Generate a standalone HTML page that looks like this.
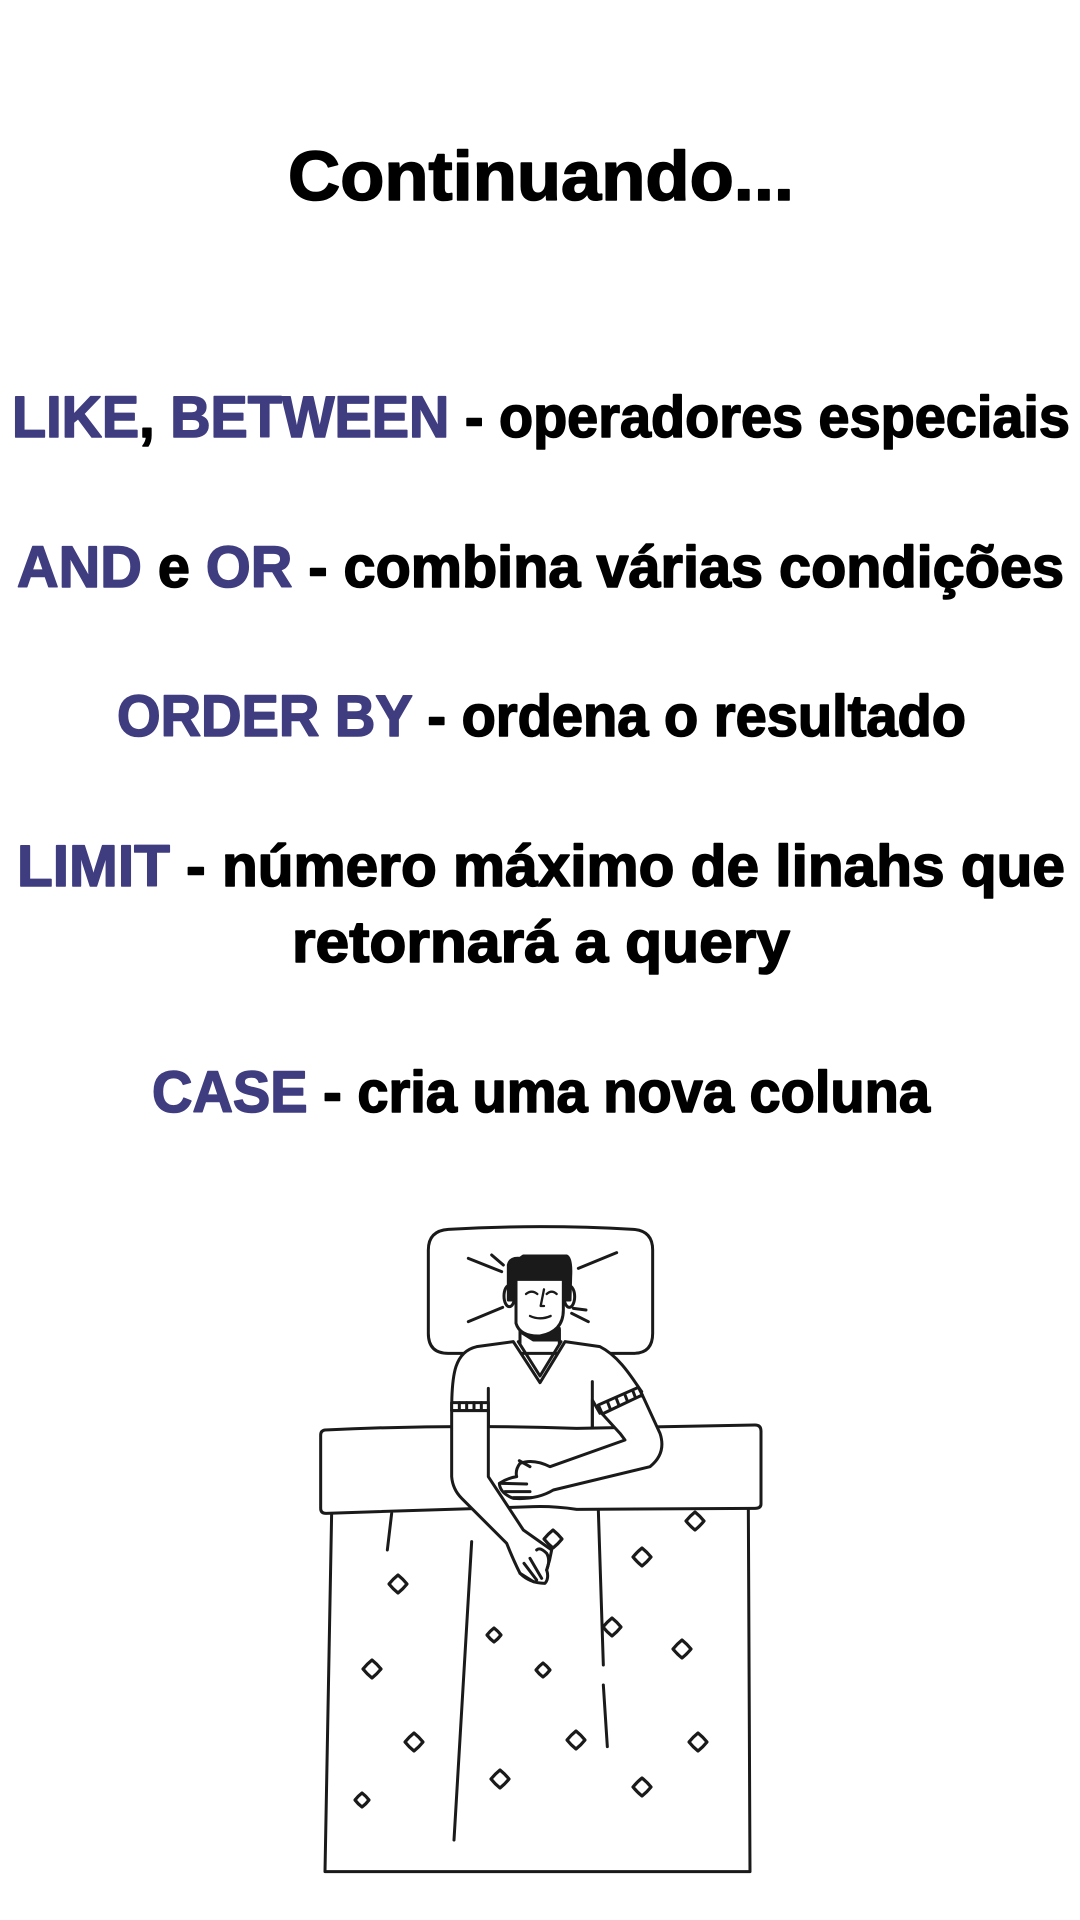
<!DOCTYPE html>
<html><head><meta charset="utf-8"><style>
html,body{margin:0;padding:0;background:#fff}
svg{display:block}
text{font-family:"Liberation Sans",sans-serif;font-weight:bold;fill:#000;stroke:#000;stroke-width:1.6;stroke-linejoin:round}
.b{fill:#3f3d80;stroke:#3f3d80}
</style></head><body>
<svg width="1080" height="1920" viewBox="0 0 1080 1920" xmlns="http://www.w3.org/2000/svg">
<rect width="1080" height="1920" fill="#fff"/>
<text x="288" y="200" font-size="70" textLength="506" lengthAdjust="spacingAndGlyphs">Continuando...</text>
<text x="12" y="437" font-size="58" textLength="1058" lengthAdjust="spacingAndGlyphs"><tspan class="b">LIKE</tspan>, <tspan class="b">BETWEEN</tspan>  - operadores especiais</text>
<text x="17" y="587" font-size="58" textLength="1047" lengthAdjust="spacingAndGlyphs"><tspan class="b">AND</tspan> e <tspan class="b">OR</tspan> -  combina várias condições</text>
<text x="117" y="736" font-size="58" textLength="849" lengthAdjust="spacingAndGlyphs"><tspan class="b">ORDER BY</tspan> - ordena o resultado</text>
<text x="17" y="886" font-size="58" textLength="1048" lengthAdjust="spacingAndGlyphs"><tspan class="b">LIMIT</tspan> - número máximo de linahs que</text>
<text x="292" y="962" font-size="58" textLength="498" lengthAdjust="spacingAndGlyphs">retornará a query</text>
<text x="152" y="1112" font-size="58" textLength="778" lengthAdjust="spacingAndGlyphs"><tspan class="b">CASE</tspan> - cria uma nova coluna</text>

<g transform="translate(300,1200) scale(0.33333)" fill="none" stroke="#1a1a1a" stroke-width="9" stroke-linecap="round" stroke-linejoin="round">
  <path d="M95,935 L75,2015 L1350,2015 L1345,920" fill="#fff"/>
  <path d="M275,940 L262,1050 M515,1025 L462,1920 M895,930 L910,1395 M910,1455 L922,1640"/>
  <path d="M445,88 Q720,72 1000,88 Q1058,92 1058,150 L1058,400 Q1058,460 1000,460 L445,460 Q385,460 385,400 L385,150 Q385,92 445,88 Z" fill="#fff"/>
  <path d="M505,175 L605,215 M575,165 L610,195 M835,205 L950,158 M505,365 L608,322 M815,340 L865,365 M820,325 L858,330"/>
  <path d="M660,370 L660,430 M778,390 L778,430"/>
  <path d="M660,395 L700,420 L778,420 L778,385 Z" fill="#1a1a1a"/>
  <ellipse cx="628" cy="288" rx="16" ry="32" fill="#fff"/>
  <ellipse cx="808" cy="290" rx="16" ry="32" fill="#fff"/>
  <path d="M625,300 L625,195 Q630,172 660,175 L670,168 L800,168 Q815,175 812,230 L810,300 L790,300 L790,240 L648,240 L648,300 Z" fill="#1a1a1a"/>
  <path d="M648,238 L790,238 L790,330 Q790,395 720,408 Q660,410 648,370 Z" fill="#fff"/>
  <path d="M678,282 Q695,268 712,282 M740,282 Q755,268 770,282 M732,268 L722,318 L732,318 M690,348 Q720,362 752,348" stroke-width="7"/>
  <path d="M455,630 C455,520 465,455 530,440 L640,425 L720,548 L795,425 L900,440 C960,470 1000,540 1025,575 L900,640 L877,600 L877,690 L565,690 L565,630 Z" fill="#fff"/>
  <path d="M655,425 L720,528 L783,425"/>
  <path d="M565,565 L565,690 M877,545 L877,690"/>
  <path d="M75,690 Q450,672 830,685 L1365,675 Q1383,675 1383,693 L1383,912 Q1383,925 1365,925 L830,928 Q760,918 700,920 L78,940 Q62,940 62,925 L62,705 Q62,692 75,690 Z" fill="#fff"/>
  <path d="M455,608 L565,608 L565,632 L455,632 Z" fill="#fff"/>
  <path d="M478,608 L478,632 M500,608 L500,632 M522,608 L522,632 M544,608 L544,632"/>
  <path d="M455,632 L455,830 Q458,868 485,895 L620,1030 Q640,1080 660,1120 Q690,1150 735,1150 Q748,1135 740,1110 Q750,1080 755,1050 L670,990 L565,830 L565,632 Z" fill="#fff"/>
  <path d="M660,1120 L700,1145 M672,1090 L710,1140 M690,1075 L725,1135 M710,1050 Q720,1040 740,1060 Q752,1080 740,1110"/>
  <path d="M895,615 L1015,562 L1027,585 L907,642 Z" fill="#fff"/>
  <path d="M922,604 L932,630 M948,593 L958,619 M974,582 L984,608 M998,571 L1008,597"/>
  <path d="M907,642 L1027,585 L1080,700 Q1100,760 1050,800 L760,870 Q710,900 640,895 Q600,880 598,850 Q620,835 650,830 Q645,810 660,790 Q700,775 750,800 L975,720 L960,700 Z" fill="#fff"/>
  <path d="M605,850 L680,852 M615,875 L690,875 M640,893 L695,893 M658,782 L690,800"/>
</g>
<g fill="#fff" stroke="#1a1a1a" stroke-width="3.2" stroke-linejoin="round">
  <path d="M0,-9 Q5,-5 9,0 Q5,5 0,9 Q-5,5 -9,0 Q-5,-5 0,-9 Z" transform="translate(695,1521)"/>
  <path d="M0,-9 Q5,-5 9,0 Q5,5 0,9 Q-5,5 -9,0 Q-5,-5 0,-9 Z" transform="translate(642,1557)"/>
  <path d="M0,-9 Q5,-5 9,0 Q5,5 0,9 Q-5,5 -9,0 Q-5,-5 0,-9 Z" transform="translate(398,1584)"/>
  <path d="M0,-9 Q5,-5 9,0 Q5,5 0,9 Q-5,5 -9,0 Q-5,-5 0,-9 Z" transform="translate(553,1539)"/>
  <path d="M0,-9 Q5,-5 9,0 Q5,5 0,9 Q-5,5 -9,0 Q-5,-5 0,-9 Z" transform="translate(612,1627)"/>
  <path d="M0,-7 Q4,-4 7,0 Q4,4 0,7 Q-4,4 -7,0 Q-4,-4 0,-7 Z" transform="translate(494,1635)"/>
  <path d="M0,-9 Q5,-5 9,0 Q5,5 0,9 Q-5,5 -9,0 Q-5,-5 0,-9 Z" transform="translate(682,1649)"/>
  <path d="M0,-9 Q5,-5 9,0 Q5,5 0,9 Q-5,5 -9,0 Q-5,-5 0,-9 Z" transform="translate(372,1669)"/>
  <path d="M0,-7 Q4,-4 7,0 Q4,4 0,7 Q-4,4 -7,0 Q-4,-4 0,-7 Z" transform="translate(543,1670)"/>
  <path d="M0,-9 Q5,-5 9,0 Q5,5 0,9 Q-5,5 -9,0 Q-5,-5 0,-9 Z" transform="translate(414,1742)"/>
  <path d="M0,-9 Q5,-5 9,0 Q5,5 0,9 Q-5,5 -9,0 Q-5,-5 0,-9 Z" transform="translate(576,1740)"/>
  <path d="M0,-9 Q5,-5 9,0 Q5,5 0,9 Q-5,5 -9,0 Q-5,-5 0,-9 Z" transform="translate(698,1742)"/>
  <path d="M0,-9 Q5,-5 9,0 Q5,5 0,9 Q-5,5 -9,0 Q-5,-5 0,-9 Z" transform="translate(500,1779)"/>
  <path d="M0,-9 Q5,-5 9,0 Q5,5 0,9 Q-5,5 -9,0 Q-5,-5 0,-9 Z" transform="translate(642,1787)"/>
  <path d="M0,-7 Q4,-4 7,0 Q4,4 0,7 Q-4,4 -7,0 Q-4,-4 0,-7 Z" transform="translate(362,1800)"/>
</g>
</svg>
</body></html>
